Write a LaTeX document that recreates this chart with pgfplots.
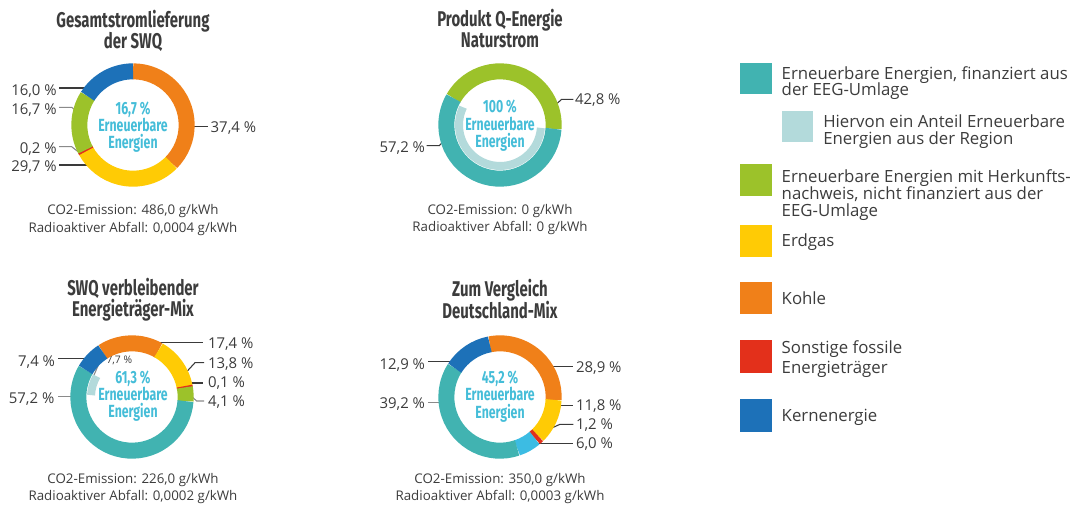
\documentclass[border=0pt]{standalone}
\usepackage{pgfplots}
\pgfplotsset{compat=1.18}
\usepackage{pgfplotstable}
\usepackage{fontspec}
\setmainfont{Open Sans}
\newfontfamily\condfont[FakeStretch=0.70]{Fira Sans}

% colour index: 0 EEG, 1 Region, 2 Herkunftsnachweis, 3 Erdgas, 4 Kohle, 5 Sonstige, 6 Kern, 7 hellblau
\definecolor{c0}{HTML}{41B3B1}
\definecolor{c1}{HTML}{B3DADB}
\definecolor{c2}{HTML}{9CC22A}
\definecolor{c3}{HTML}{FFCB05}
\definecolor{c4}{HTML}{F08019}
\definecolor{c5}{HTML}{E3301B}
\definecolor{c6}{HTML}{1D71B8}
\definecolor{c7}{HTML}{3CBCE3}
\definecolor{cyantext}{HTML}{45BDD8}
\definecolor{txt}{HTML}{3C3C3C}
\definecolor{lead}{HTML}{3A3A3A}
\definecolor{leadg}{HTML}{8A8A8A}

% ring segment drawn at each data point: angles from the table values
\newcommand\drawseg[2]{%
  \pgfmathsetmacro\segA{\aone}%
  \pgfmathsetmacro\segB{\atwo}%
  \pgfmathsetmacro\segD{\segA-\segB}%
  \pgfmathtruncatemacro\segK{\segk}%
  \ifdim\segD pt<2.4pt
    \pgfmathsetmacro\segM{(\segA+\segB)/2}%
    \pgfmathsetmacro\segA{\segM+1.2}%
    \pgfmathsetmacro\segB{\segM-1.2}%
  \fi
  \pgfsetbuttcap
  \pgfsetlinewidth{#2}%
  \pgfsetstrokecolor{c\segK}%
  \pgfpathmoveto{\pgfpointpolar{\segA}{#1}}%
  \pgfpatharc{\segA}{\segB}{#1}%
  \pgfusepath{stroke}%
}
\pgfdeclareplotmark{ringseg}{\drawseg{40.25pt}{12pt}}
\pgfdeclareplotmark{innerseg}{\drawseg{30.75pt}{6pt}}

\pgfplotsset{
  donut/.style={only marks, mark=ringseg,
    visualization depends on={#1-3.6*\thisrow{cum} \as \aone},
    visualization depends on={#1-3.6*(\thisrow{cum}+\thisrow{pct}) \as \atwo},
    visualization depends on={\thisrow{k} \as \segk}},
  inner/.style={donut=#1, mark=innerseg},
}

% Gesamtstromlieferung der SWQ
\pgfplotstableread{
cum  pct  k
0    37.4 4
37.4 29.7 3
67.1 0.2  5
67.3 16.7 2
84.0 16.0 6
}\donutA
% Produkt Q-Energie Naturstrom
\pgfplotstableread{
cum  pct  k
0    42.8 2
42.8 57.2 0
}\donutB
\pgfplotstableread{
cum  pct  k
42.8 56.0 1
}\innerB
% SWQ verbleibender Energietraeger-Mix
\pgfplotstableread{
cum  pct  k
0    17.4 4
17.4 13.8 3
31.2 0.1  5
31.3 4.1  2
35.4 57.2 0
92.6 7.4  6
}\donutC
\pgfplotstableread{
cum  pct  k
84.9 7.7  1
}\innerC
% Deutschland-Mix
\pgfplotstableread{
cum  pct  k
0    28.9 4
28.9 11.8 3
40.7 1.2  5
41.9 6.0  7
47.9 39.2 0
87.1 12.9 6
}\donutD

\newcommand\ttl{\condfont\bfseries\fontsize{16}{18}\selectfont}
\newcommand\ctr{\condfont\bfseries\fontsize{13.2}{15}\selectfont}
\newcommand\lbl{\fontsize{11.2}{13}\selectfont}
\newcommand\info{\fontsize{10}{12}\selectfont}
\newcommand\leg{\fontsize{12.6}{14}\selectfont}

\begin{document}
\begin{tikzpicture}
\begin{axis}[scale only axis, width=808.5pt, height=378pt, hide axis,
  xmin=0, xmax=1078, ymin=0, ymax=504, y dir=reverse, clip=false]

\addplot[donut=90]  table[x expr=133, y expr=125] {\donutA};
\addplot[donut=150] table[x expr=500, y expr=125] {\donutB};
\addplot[inner=150] table[x expr=500, y expr=125] {\innerB};
\addplot[donut=123] table[x expr=132, y expr=397] {\donutC};
\addplot[inner=123] table[x expr=132, y expr=397] {\innerC};
\addplot[donut=101] table[x expr=500, y expr=397] {\donutD};

\tikzset{every node/.style={inner sep=0pt, outer sep=0pt, text=txt}}
\tikzset{ld/.style={draw=lead, line width=0.8pt}}
\tikzset{lg/.style={draw=leadg, line width=0.8pt}}
\tikzset{ct/.style={anchor=base, font=\ctr, text=cyantext}}

% ---------- titles
\node[anchor=base, font=\ttl] at (133,27.3) {Gesamtstromlieferung};
\node[anchor=base, font=\ttl] at (133,48.5) {der SWQ};
\node[anchor=base, font=\ttl] at (500,26.5) {Produkt Q-Energie};
\node[anchor=base, font=\ttl] at (500,47.5) {Naturstrom};
\node[anchor=base, font=\ttl] at (133,295) {SWQ verbleibender};
\node[anchor=base, font=\ttl] at (133,316.5) {Energietr\"ager-Mix};
\node[anchor=base, font=\ttl] at (500,296.7) {Zum Vergleich};
\node[anchor=base, font=\ttl] at (500,318.3) {Deutschland-Mix};

% ---------- centre texts
\node[ct] at (133,114) {16,7 \%};
\node[ct] at (133,131.5) {Erneuerbare};
\node[ct] at (133,148.5) {Energien};
\node[ct] at (500,112.5) {100 \%};
\node[ct] at (500,130) {Erneuerbare};
\node[ct] at (500,147) {Energien};
\node[ct] at (133,383.3) {61,3 \%};
\node[ct] at (133,400.8) {Erneuerbare};
\node[ct] at (133,417.8) {Energien};
\node[ct] at (500,383.3) {45,2 \%};
\node[ct] at (500,400.8) {Erneuerbare};
\node[ct] at (500,418.3) {Energien};

% ---------- emission texts
\node[anchor=base, font=\info] at (133,214.5) {CO2-Emission: 486,0 g/kWh};
\node[anchor=base, font=\info] at (133,232.3) {Radioaktiver Abfall: 0,0004 g/kWh};
\node[anchor=base, font=\info] at (500,214.5) {CO2-Emission: 0 g/kWh};
\node[anchor=base, font=\info] at (500,231.7) {Radioaktiver Abfall: 0 g/kWh};
\node[anchor=base, font=\info] at (133,483) {CO2-Emission: 226,0 g/kWh};
\node[anchor=base, font=\info] at (133,500) {Radioaktiver Abfall: 0,0002 g/kWh};
\node[anchor=base, font=\info] at (500,483.3) {CO2-Emission: 350,0 g/kWh};
\node[anchor=base, font=\info] at (500,500.3) {Radioaktiver Abfall: 0,0003 g/kWh};

% ---------- labels donut 1
\draw[ld] (59,88) -- (98,88);
\node[anchor=base east, font=\lbl] at (56.7,95.5) {16,0 \%};
\draw[lg] (59,107.3) -- (71.7,107.3) -- (81,115);
\node[anchor=base east, font=\lbl] at (56.7,114.8) {16,7 \%};
\draw[lg] (59,146.7) -- (71.7,146.7) -- (81,154);
\node[anchor=base east, font=\lbl] at (56.7,153.2) {0,2 \%};
\draw[ld] (59,165) -- (95,165);
\node[anchor=base east, font=\lbl] at (56.7,171.2) {29,7 \%};
\draw[ld] (190,126.7) -- (208.3,126.7);
\node[anchor=base west, font=\lbl] at (210.7,132.2) {37,4 \%};

% ---------- labels donut 2
\draw[ld] (552.7,107.3) -- (561.7,99.3) -- (573.3,99.3);
\node[anchor=base west, font=\lbl] at (575,104.8) {42,8 \%};
\draw[ld] (426.7,145.7) -- (439.3,145.7) -- (447.3,136.7);
\node[anchor=base east, font=\lbl] at (425,152.2) {57,2 \%};

% ---------- labels donut 3
\draw[ld] (58.3,358.3) -- (90,358.3);
\node[anchor=base east, font=\lbl] at (55,366.2) {7,4 \%};
\draw[lg] (101.2,358.3) -- (93.3,376.7);
\node[anchor=base west, font=\fontsize{7.8}{9}\selectfont] at (106.5,363.5) {7,7 \%};
\draw[lg] (58.3,396.7) -- (76.7,396.7);
\node[anchor=base east, font=\lbl] at (54.3,403.2) {57,2 \%};
\draw[ld] (149.3,342.7) -- (203.3,342.7);
\node[anchor=base west, font=\lbl] at (208,348.2) {17,4 \%};
\draw[ld] (186.7,371.7) -- (195,362.7) -- (204,362.7);
\node[anchor=base west, font=\lbl] at (208,368.2) {13,8 \%};
\draw[ld] (186.7,383) -- (203.3,383);
\node[anchor=base west, font=\lbl] at (208,387.8) {0,1 \%};
\draw[lg] (187.3,392.7) -- (196.7,401) -- (204,401);
\node[anchor=base west, font=\lbl] at (208,406.5) {4,1 \%};

% ---------- labels donut 4
\draw[ld] (428.3,361.7) -- (458.3,361.7);
\node[anchor=base east, font=\lbl] at (425,369.8) {12,9 \%};
\draw[lg] (428.3,402.7) -- (447.3,402.7);
\node[anchor=base east, font=\lbl] at (425,408.2) {39,2 \%};
\draw[ld] (545,366.7) -- (572.7,366.7);
\node[anchor=base west, font=\lbl] at (576,372.8) {28,9 \%};
\draw[ld] (555,405.7) -- (573.3,405.7);
\node[anchor=base west, font=\lbl] at (576,410.5) {11,8 \%};
\draw[ld] (540,433.3) -- (560,424.3) -- (573.3,424.3);
\node[anchor=base west, font=\lbl] at (576,429.8) {1,2 \%};
\draw[ld] (526.7,443.3) -- (573.3,443.3);
\node[anchor=base west, font=\lbl] at (576,448.8) {6,0 \%};

% ---------- legend
\fill[c0] (740,62.7) rectangle (772,94.3);
\node[anchor=base west, font=\leg] at (781.7,79) {Erneuerbare Energien, finanziert aus};
\node[anchor=base west, font=\leg] at (781.7,95) {der EEG-Umlage};
\fill[c1] (781.7,110.7) rectangle (813.3,141.7);
\node[anchor=base west, font=\leg] at (823.3,127.7) {Hiervon ein Anteil Erneuerbare};
\node[anchor=base west, font=\leg] at (823.3,144) {Energien aus der Region};
\fill[c2] (740,164) rectangle (772,196);
\node[anchor=base west, font=\leg] at (781.7,182.7) {Erneuerbare Energien mit Herkunfts-};
\node[anchor=base west, font=\leg] at (781.7,199.3) {nachweis, nicht finanziert aus der};
\node[anchor=base west, font=\leg] at (781.7,216) {EEG-Umlage};
\fill[c3] (740,225) rectangle (772,257);
\node[anchor=base west, font=\leg] at (781.7,246.7) {Erdgas};
\fill[c4] (740,281.7) rectangle (772,314);
\node[anchor=base west, font=\leg] at (781.7,304) {Kohle};
\fill[c5] (740,340) rectangle (772,373.3);
\node[anchor=base west, font=\leg] at (781.7,353.3) {Sonstige fossile};
\node[anchor=base west, font=\leg] at (781.7,373.3) {Energietr\"ager};
\fill[c6] (740,399.3) rectangle (772,432.3);
\node[anchor=base west, font=\leg] at (781.7,421.7) {Kernenergie};
\end{axis}
\pgfresetboundingbox
\path (0,0) rectangle (808.5pt,378pt);
\end{tikzpicture}
\end{document}
